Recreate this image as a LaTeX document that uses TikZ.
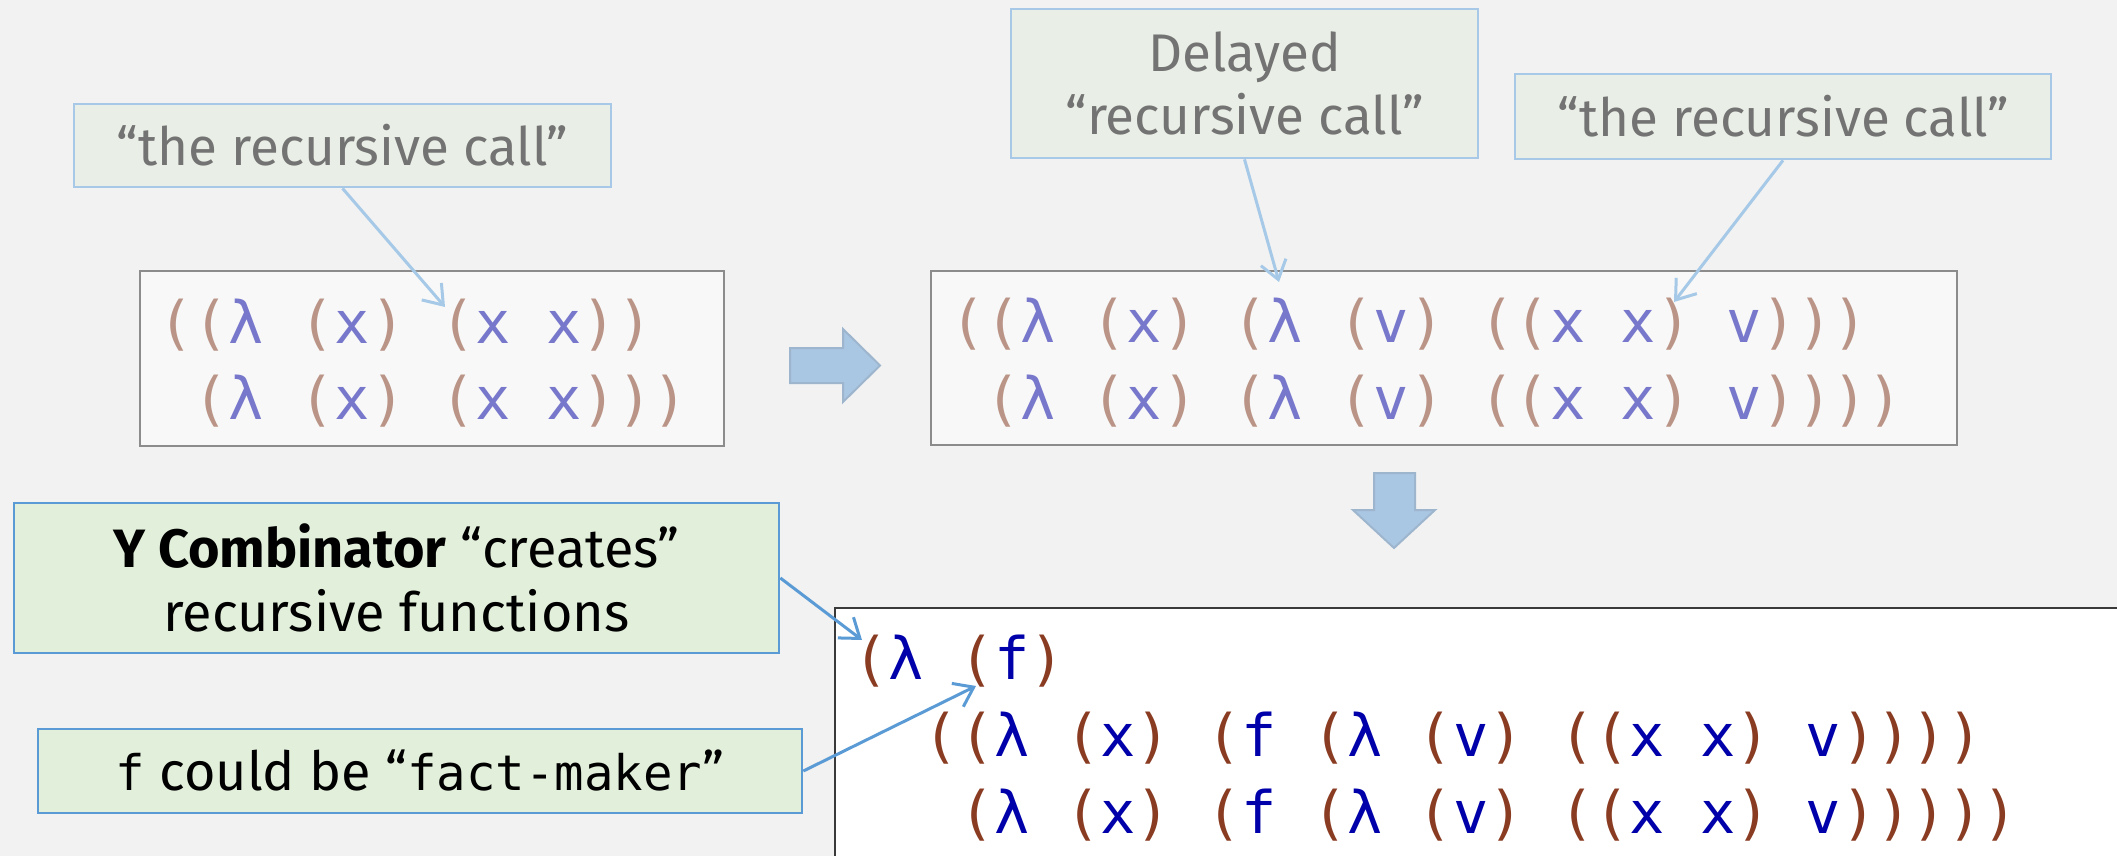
\documentclass[tikz,border=0pt]{standalone}
\usepackage{fontspec}
\setmainfont{Fira Sans}
\newfontfamily\codefont{DejaVu Sans Mono}
\usetikzlibrary{arrows.meta}
\definecolor{bg}{HTML}{F2F2F2}
\definecolor{fadefill}{HTML}{E9EFE6}
\definecolor{fadeborder}{HTML}{A7C8E6}
\definecolor{fadetext}{HTML}{737373}
\definecolor{greenfill}{HTML}{E2EFDA}
\definecolor{blueborder}{HTML}{5B9BD5}
\definecolor{codefill}{HTML}{F8F8F8}
\definecolor{codeborder}{HTML}{8C8C8C}
\definecolor{pcolA}{HTML}{BA9486}
\definecolor{lcolA}{HTML}{7777CC}
\definecolor{pcolB}{HTML}{8A3C22}
\definecolor{lcolB}{HTML}{0000AA}
\definecolor{barfill}{HTML}{A9C6E3}
\definecolor{barborder}{HTML}{9DB6CE}
\definecolor{fadeline}{HTML}{A6C9E8}
\definecolor{box3border}{HTML}{3A3A3A}
\colorlet{pcol}{black}
\newcommand{\op}{\textcolor{pcol}{(}}
\newcommand{\cp}{\textcolor{pcol}{)}}
\newcommand{\lblmono}[1]{{\codefont\fontsize{24.5}{32}\selectfont #1}}
\begin{document}
\begin{tikzpicture}[x=0.5pt,y=-0.5pt,
  lblA/.style={draw=fadeborder, line width=1.35pt, fill=fadefill, text=fadetext,
    font=\fontsize{26.5}{31.5}\selectfont, align=center, inner sep=0pt},
  lblB/.style={draw=blueborder, line width=1.35pt, fill=greenfill, text=black,
    font=\fontsize{27}{32}\selectfont, align=center, inner sep=0pt},
  codebox/.style={draw=codeborder, line width=0.8pt, fill=codefill, inner sep=0pt},
  codeboxB/.style={draw=box3border, line width=1pt, fill=white, inner sep=0pt},
  codeA/.style={anchor=base west, inner sep=0pt, font=\codefont\fontsize{29.3}{35}\selectfont,
    text=lcolA, execute at begin node=\colorlet{pcol}{pcolA}},
  codeB/.style={anchor=base west, inner sep=0pt, font=\codefont\fontsize{29.3}{35}\selectfont,
    text=lcolB, execute at begin node=\colorlet{pcol}{pcolB}},
  fadearrow/.style={draw=fadeline, line width=1.5pt, -{Straight Barb[length=9pt,width=13pt]}},
  bluearrow/.style={draw=blueborder, line width=1.5pt, -{Straight Barb[length=9pt,width=13pt]}},
  blockarrow/.style={fill=barfill, draw=barborder, line width=1pt}
]
\useasboundingbox (0,0) rectangle (2117,856);
\clip (0,0) rectangle (2117,856);
\fill[bg] (0,0) rectangle (2117,856);

% labels (faded)
\node[lblA, minimum width=268.5pt, minimum height=41.5pt] (la) at (342.5,145.5) {“the recursive call”};
\node[lblA, minimum width=233.5pt, minimum height=74.5pt] (ld) at (1244.5,83.5) {Delayed\\“recursive call”};
\node[lblA, minimum width=268pt, minimum height=42.5pt] (lr) at (1783,116.5) {“the recursive call”};

% code box 1
\node[codebox, minimum width=292pt, minimum height=87.5pt] (cb1) at (432,358.5) {};
\node[codeA] (c1a) at (158,343.4) {\op\op λ~\op x\cp~\op x~x\cp\cp};
\node[codeA] (c1b) at (158,419.4) {~\op λ~\op x\cp~\op x~x\cp\cp\cp};

% code box 2
\node[codebox, minimum width=513pt, minimum height=87pt] (cb2) at (1444,358) {};
\node[codeA] (c2a) at (950,342.4) {\op\op λ~\op x\cp~\op λ~\op v\cp~\op\op x~x\cp~v\cp\cp\cp};
\node[codeA] (c2b) at (950,419.9) {~\op λ~\op x\cp~\op λ~\op v\cp~\op\op x~x\cp~v\cp\cp\cp\cp};

% block arrows
\draw[blockarrow] (790,348) -- (843,348) -- (843,329) -- (880,365.5) -- (843,402) -- (843,383) -- (790,383) -- cycle;
\draw[blockarrow] (1374,473) -- (1415,473) -- (1415,510) -- (1435,510) -- (1394,548) -- (1353,510) -- (1374,510) -- cycle;

% code box 3
\node[codeboxB, minimum width=650pt, minimum height=135pt] (cb3) at (1485,743) {};
\node[codeB] (c3a) at (853,679) {\op λ~\op f\cp};
\node[codeB] (c3b) at (853,756) {~~\op\op λ~\op x\cp~\op f~\op λ~\op v\cp~\op\op x~x\cp~v\cp\cp\cp\cp};
\node[codeB] (c3c) at (853,833) {~~~\op λ~\op x\cp~\op f~\op λ~\op v\cp~\op\op x~x\cp~v\cp\cp\cp\cp\cp};

% bottom labels
\node[lblB, minimum width=382.5pt, minimum height=75pt] (ly) at (396.5,578) {{\bfseries Y Combinator} “creates”\\recursive functions};
\node[lblB, minimum width=382pt, minimum height=42pt] (lf) at (420,771) {\lblmono{f} could be “\lblmono{fact-maker}”};

% connectors
\coordinate (t1) at (445,307);
\coordinate (t2) at (1279,282);
\coordinate (t3) at (1674,302);
\coordinate (t4) at (862,640);
\coordinate (t5) at (976,686);
\draw[fadearrow] (la.south) -- (t1);
\draw[fadearrow] (ld.south) -- (t2);
\draw[fadearrow] (lr.south) -- (t3);
\draw[bluearrow] (ly.east) -- (t4);
\draw[bluearrow] (lf.east) -- (t5);
\end{tikzpicture}
\end{document}
